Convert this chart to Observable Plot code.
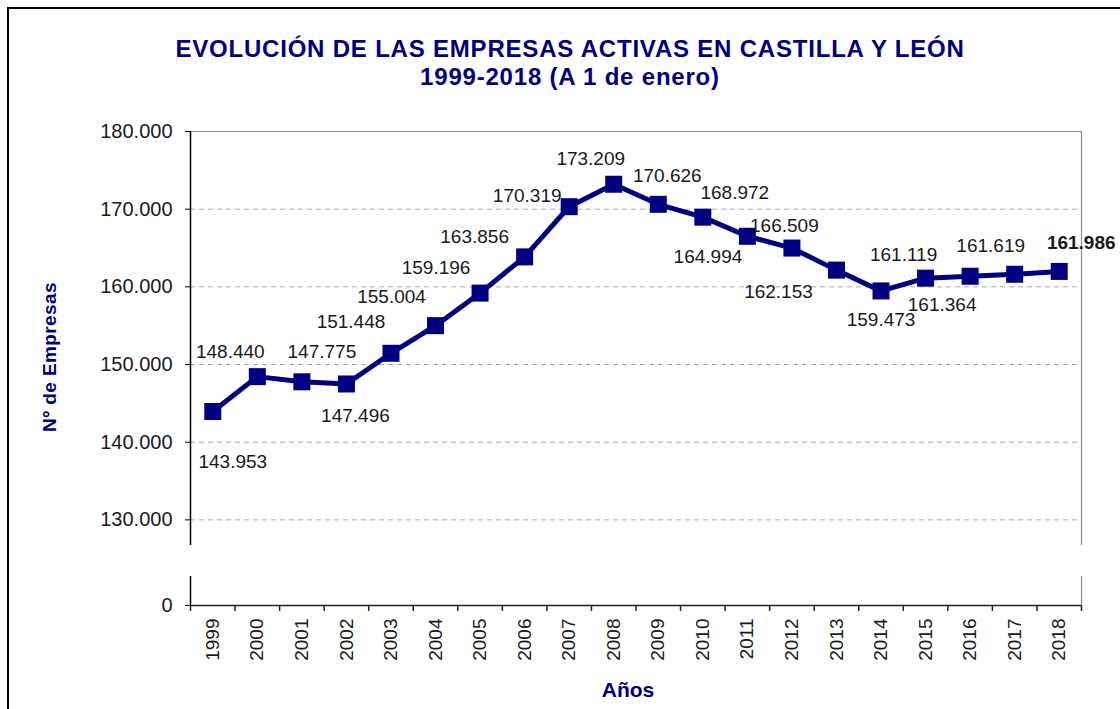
<!DOCTYPE html>
<html>
<head>
<meta charset="utf-8">
<script src="https://cdn.jsdelivr.net/npm/d3@7"></script>
<script src="https://cdn.jsdelivr.net/npm/@observablehq/plot@0.6"></script>
<style>
  body { margin: 0; background: #fff; }
  #wrap { position: relative; width: 1120px; height: 709px; overflow: hidden; font-family: "Liberation Sans", Arial, sans-serif; background: #fff; }
  #frame { position: absolute; left: 7px; top: 7px; width: 1200px; height: 800px; border-left: 2px solid #000; border-top: 2px solid #000; }
  #chart { position: absolute; left: 0; top: 0; }
  .title { position: absolute; left: 0; width: 1140px; text-align: center; color: #000080; font-weight: bold; font-size: 24px; line-height: 28px; letter-spacing: 0.8px; white-space: nowrap; }
  #ytitle { position: absolute; left: 50px; top: 357px; transform: translate(-50%, -50%) rotate(-90deg); color: #000080; font-weight: bold; font-size: 19px; white-space: nowrap; letter-spacing: 0.4px; }
  #xtitle { position: absolute; left: 628px; top: 690px; transform: translate(-50%, -50%); color: #000080; font-weight: bold; font-size: 21px; white-space: nowrap; }
</style>
</head>
<body>
<div id="wrap">
  <div id="frame"></div>
  <div id="chart"></div>
  <div class="title" style="top:35px">EVOLUCIÓN DE LAS EMPRESAS ACTIVAS EN CASTILLA Y LEÓN</div>
  <div class="title" style="top:63px">1999-2018 (A 1 de enero)</div>
  <div id="ytitle">Nº de Empresas</div>
  <div id="xtitle">Años</div>
</div>
<script>
// ---- data ----
const years = [1999, 2000, 2001, 2002, 2003, 2004, 2005, 2006, 2007, 2008,
               2009, 2010, 2011, 2012, 2013, 2014, 2015, 2016, 2017, 2018];
const empresas = [143953, 148440, 147775, 147496, 151448, 155004, 159196, 163856, 170319, 173209,
                  170626, 168972, 166509, 164994, 162153, 159473, 161119, 161364, 161619, 161986];
const yTickValues = [0, 130000, 140000, 150000, 160000, 170000, 180000];
const gridValues = [130000, 140000, 150000, 160000, 170000];

// ---- label placement (pixel offsets from each point, layout only) ----
const labelOffsets = [
  [20, 50], [-27, -25], [20, -30], [9, 32], [-40, -31], [-44, -29], [-44, -25], [-50, -20], [-42, -11], [-23, -25],
  [9, -28], [32, -24], [37, -10], [-84, 9], [-58, 22], [0, 29], [-22, -23], [-28, 29], [-24, -28], [22, -29]
];

const fmt = d3.formatLocale({decimal: ",", thousands: ".", grouping: [3], currency: ["", "€"]}).format(",d");
const data = years.map((year, i) => ({year, value: empresas[i]}));
const tickBetween = d3.range(years[0] - 0.5, years[years.length - 1] + 1, 1);

const navy = "#000080";
const upperLo = 126700, lowerHi = 4000;

const labelMarks = data.map((d, i) => Plot.text([d], {
  x: "year", y: "value", text: d => fmt(d.value),
  dx: labelOffsets[i][0], dy: labelOffsets[i][1],
  fill: "#1a1a1a", fontSize: 19,
  fontWeight: i === data.length - 1 ? "bold" : "normal"
}));

const chart = Plot.plot({
  width: 1120, height: 709,
  marginLeft: 190, marginRight: 39, marginTop: 131, marginBottom: 104,
  style: {fontFamily: "'Liberation Sans', Arial, sans-serif", fontSize: "19px", color: "#000", background: "transparent", overflow: "visible"},
  x: {type: "linear", domain: [years[0] - 0.5, years[years.length - 1] + 0.5]},
  y: {type: "linear", domain: [0, lowerHi, upperLo, 180000], range: [605, 576, 545, 131]},
  marks: [
    Plot.ruleY(gridValues, {stroke: "#a8a8a8", strokeDasharray: "5,4", strokeWidth: 1}),
    Plot.ruleY([180000], {stroke: "#8c8c8c", strokeWidth: 1.2}),
    Plot.ruleX([years[years.length - 1] + 0.5], {y1: upperLo, y2: 180000, stroke: "#8c8c8c", strokeWidth: 1.2}),
    Plot.ruleX([years[years.length - 1] + 0.5], {y1: 0, y2: lowerHi, stroke: "#8c8c8c", strokeWidth: 1.2}),
    Plot.ruleX([years[0] - 0.5], {y1: upperLo, y2: 180000, stroke: "#000", strokeWidth: 1.5}),
    Plot.ruleX([years[0] - 0.5], {y1: 0, y2: lowerHi, stroke: "#000", strokeWidth: 1.5}),
    Plot.ruleY([0], {stroke: "#222", strokeWidth: 1.5}),
    Plot.axisY({ticks: yTickValues, tickFormat: fmt, tickSize: 5, tickPadding: 13, label: null, fontSize: 20, stroke: "#000", tickWidth: 1.5, fill: "#1a1a1a"}),
    Plot.axisX({ticks: tickBetween, tickFormat: () => "", tickSize: 6, label: null, stroke: "#222", strokeWidth: 1.5}),
    Plot.axisX({ticks: years, tickFormat: d => String(d), tickSize: 0, tickRotate: -90, tickPadding: 13, label: null, fontSize: 19, fill: "#1a1a1a"}),
    Plot.line(data, {x: "year", y: "value", stroke: navy, strokeWidth: 5, strokeLinejoin: "miter"}),
    Plot.dot(data, {x: "year", y: "value", symbol: "square", r: 9.6, fill: navy, stroke: "none"}),
    ...labelMarks
  ]
});
document.getElementById("chart").appendChild(chart);
</script>
</body>
</html>
